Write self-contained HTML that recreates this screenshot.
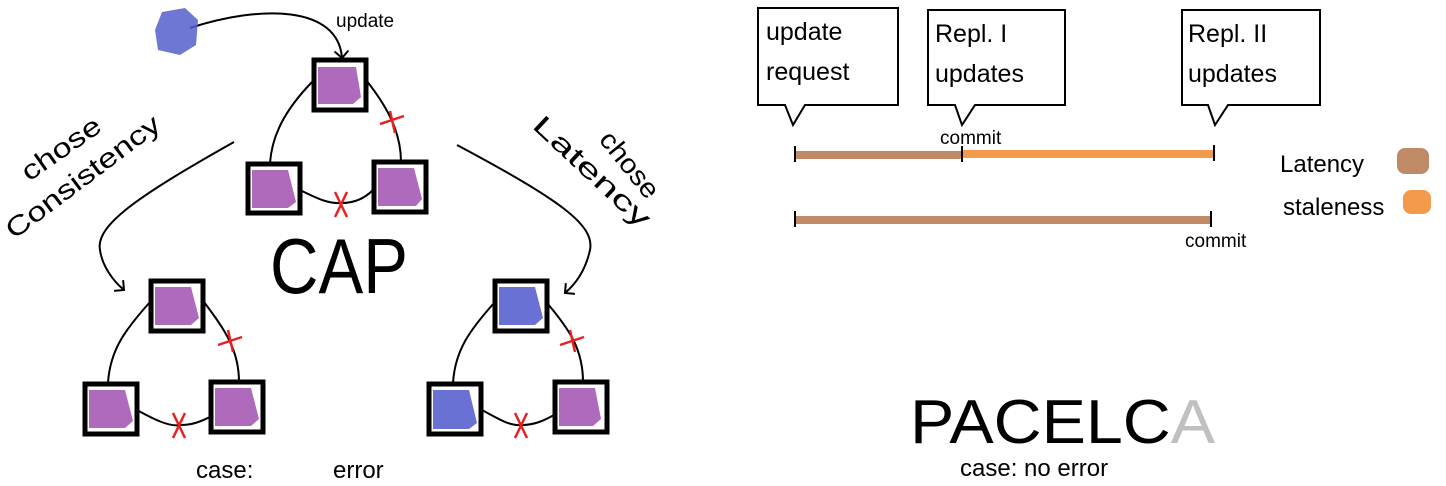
<!DOCTYPE html>
<html><head><meta charset="utf-8"><style>
html,body{margin:0;padding:0;background:#fff;width:1446px;height:486px;overflow:hidden}
svg{display:block}
text{font-family:"Liberation Sans",sans-serif;fill:#000}
</style></head><body>
<svg width="1446" height="486" viewBox="0 0 1446 486">
<defs>
<marker id="ah2" markerWidth="16" markerHeight="16" refX="8" refY="8" orient="auto" markerUnits="userSpaceOnUse"><path d="M1,1 L8,8 L1,15" fill="none" stroke="#000" stroke-width="2"/></marker>
</defs>
<rect width="1446" height="486" fill="#fff"/>
<g fill="none" stroke="#000" stroke-width="2">
<path d="M312,82 C285,110 272,135 270,163"/>
<path d="M366,80 C390,110 401,135 401,162"/>
<path d="M300,190 C320,200 330,204 342,203 C355,203 365,198 373,190"/>
<path d="M234,142 C140,195 95,225 100,250 C102,265 112,280 124,290" marker-end="url(#ah2)"/>
<path d="M457,145 C560,200 595,225 590,250 C586,268 578,282 565,293" marker-end="url(#ah2)"/>
<path d="M190,28 C260,5 338,5 342,58" marker-end="url(#ah2)"/>
<path d="M150,302 C125,330 110,350 108,383"/>
<path d="M204,302 C225,330 239,350 239,382"/>
<path d="M137,410 C155,420 170,427 180,425 C195,425 203,420 210,417"/>
<path d="M494,303 C470,330 455,350 453,383"/>
<path d="M547,303 C570,330 583,350 583,382"/>
<path d="M482,410 C500,420 510,426 522,425 C535,425 545,420 554,415"/>
</g>
<path d="M162,12 L185,8 L198,20 L196,45 L180,55 L158,50 L155,30 Z" fill="#5560cc" opacity="0.85"/>
<g stroke="#000" stroke-width="5">
<rect x="314" y="60" width="52" height="50" fill="#fff"/>
<rect x="248" y="164" width="52" height="49" fill="#fff"/>
<rect x="374" y="162" width="52" height="50" fill="#fff"/>
<rect x="151" y="281" width="52" height="50" fill="#fff"/>
<rect x="85" y="384" width="52" height="50" fill="#fff"/>
<rect x="211" y="382" width="52" height="50" fill="#fff"/>
<rect x="495" y="281" width="52" height="50" fill="#fff"/>
<rect x="429" y="384" width="52" height="50" fill="#fff"/>
<rect x="555" y="382" width="52" height="50" fill="#fff"/>
</g>
<g opacity="0.85">
<path d="M318,67 h38 l5,30 l-8,7 h-35 z" fill="#a050b0"/>
<path d="M252,170 h36 l8,32 l-8,6 h-36 z" fill="#a050b0"/>
<path d="M378,168 h36 l8,31 l-6,7 h-38 z" fill="#a050b0"/>
<path d="M155,287 h36 l8,31 l-8,7 h-36 z" fill="#a050b0"/>
<path d="M89,390 h36 l8,31 l-8,7 h-36 z" fill="#a050b0"/>
<path d="M215,388 h36 l8,31 l-8,7 h-36 z" fill="#a050b0"/>
<path d="M499,287 h36 l8,31 l-8,7 h-36 z" fill="#4f59cc"/>
<path d="M433,390 h36 l8,33 l-8,6 h-36 z" fill="#4f59cc"/>
<path d="M559,388 h36 l6,31 l-8,7 h-34 z" fill="#a050b0"/>
</g>
<g stroke="#e82020" stroke-width="2.5" fill="none">
<path d="M380,124 l24,-8 M390,111 l5,22"/>
<path d="M335,192 l12,25 M347,192 l-12,25"/>
<path d="M218,345 l24,-8 M228,330 l5,22"/>
<path d="M173,413 l12,25 M185,413 l-12,25"/>
<path d="M560,345 l24,-8 M570,330 l5,22"/>
<path d="M515,413 l12,25 M527,413 l-12,25"/>
</g>
<text x="336" y="27" font-size="19">update</text>
<text x="270" y="293" font-size="78" textLength="138" lengthAdjust="spacingAndGlyphs">CAP</text>
<text transform="translate(14,240) rotate(-37)" font-size="27" textLength="186" lengthAdjust="spacingAndGlyphs">Consistency</text>
<text transform="translate(29,182) rotate(-35)" font-size="27" textLength="91" lengthAdjust="spacingAndGlyphs">chose</text>
<text transform="translate(531,127) rotate(43)" font-size="27" textLength="150" lengthAdjust="spacingAndGlyphs">Latency</text>
<text transform="translate(598,140) rotate(51)" font-size="27" textLength="78" lengthAdjust="spacingAndGlyphs">chose</text>
<text x="196" y="478" font-size="24">case:<tspan x="333">error</tspan></text>
<g fill="#fff" stroke="#000" stroke-width="2">
<path d="M758,8 H898 V105 H805 L793,125 L785,105 H758 Z"/>
<path d="M928,10 H1065 V105 H975 L962,125 L955,105 H928 Z"/>
<path d="M1182,10 H1320 V105 H1228 L1215,125 L1208,105 H1182 Z"/>
</g>
<text font-size="25"><tspan x="766" y="40">update</tspan><tspan x="766" y="80">request</tspan></text>
<text font-size="25"><tspan x="935" y="42">Repl. I</tspan><tspan x="935" y="82">updates</tspan></text>
<text font-size="25"><tspan x="1188" y="42">Repl. II</tspan><tspan x="1188" y="82">updates</tspan></text>
<rect x="795" y="151" width="168" height="8" fill="#c08a66"/>
<rect x="963" y="150" width="250" height="8" fill="#f39a4d"/>
<rect x="795" y="216" width="415" height="8" fill="#c08a66"/>
<g stroke="#000" stroke-width="2"><path d="M795,146 v16 M962,146 v16 M1214,145 v16 M795,211 v16 M1211,211 v16"/></g>
<text x="940" y="144" font-size="19">commit</text>
<text x="1185" y="247" font-size="19">commit</text>
<text x="1280" y="172" font-size="24">Latency</text>
<rect x="1397" y="148" width="32" height="26" rx="8" fill="#c08a66"/>
<text x="1283" y="215" font-size="24">staleness</text>
<rect x="1403" y="190" width="28" height="24" rx="8" fill="#f39a4d"/>
<text x="910" y="443" font-size="62" textLength="305" lengthAdjust="spacingAndGlyphs">PACELC<tspan fill="#c0c0c0">A</tspan></text>
<text x="960" y="476" font-size="24">case: no error</text>
</svg>
</body></html>
